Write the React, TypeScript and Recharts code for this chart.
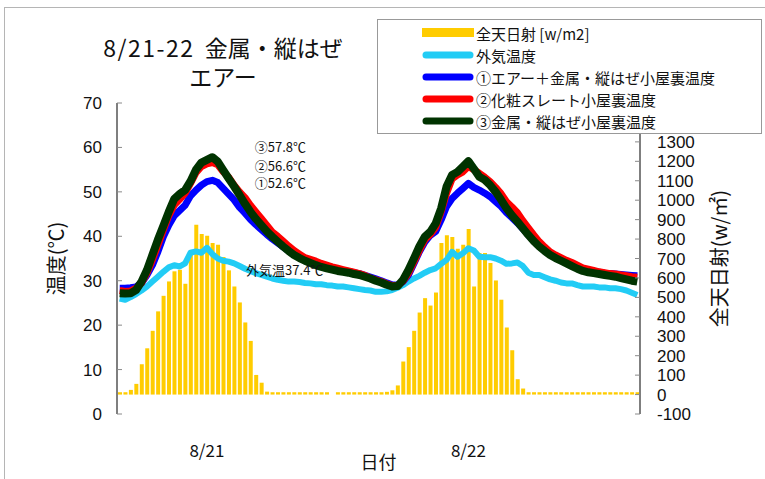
import React from 'react';
import {
  ComposedChart,
  Bar,
  Line,
  XAxis,
  YAxis,
  Legend,
  ReferenceDot,
} from 'recharts';

const JP = '"Noto Sans CJK JP", "Noto Sans", sans-serif';
const NUM = '"Liberation Sans", Arial, sans-serif';

// 30-minute readings, 96 slots over two days
const radiation = [
  12, 12, 24, 55, 156, 238, 328, 428, 508, 582, 634, 642,
  570, 740, 874, 826, 817, 780, 771, 708, 639, 556, 474, 371,
  276, 101, 61, 15, 12, 12, 12, 12, 12, 12, 12, 12,
  12, 12, 12, null, 12, 12, 12, 12, 12, 12, 12, 12,
  12, 14, 22, 47, 170, 244, 328, 422, 496, 458, 525, 780,
  819, 811, 750, 771, 852, 556, 728, 728, 677, 587, 488, 345,
  228, 79, 31, 12, 12, 12, 12, 12, 12, 12, 12, 12,
  12, 12, 12, 12, 12, 12, 12, 12, 12, 12, 12, 12,
];

const outdoorTemp = [
  26.0, 25.7, 26.3, 27.0, 27.8, 28.7, 29.8, 30.9, 32.0, 33.0, 33.5, 33.2,
  33.9, 36.3, 36.6, 36.3, 37.4, 36.0, 35.0, 34.5, 34.3, 33.9, 33.3, 32.7,
  32.2, 31.7, 31.3, 30.9, 30.5, 30.2, 30.0, 29.8, 29.8, 29.7, 29.5, 29.4,
  29.2, 29.2, 29.0, 28.9, 28.7, 28.7, 28.5, 28.3, 28.1, 27.9, 27.8, 27.5,
  27.5, 27.6, 27.9, 28.4, 29.0, 29.8, 30.5, 31.1, 31.8, 32.4, 32.8, 33.8,
  34.7, 36.5, 35.4, 36.2, 37.3, 36.8, 35.4, 35.3, 35.3, 35.0, 34.5, 33.8,
  33.9, 34.1, 33.3, 31.8, 31.3, 31.3, 30.8, 30.3, 30.0, 29.6, 29.4, 29.4,
  29.0, 28.7, 28.7, 28.7, 28.5, 28.5, 28.3, 28.3, 28.1, 27.8, 27.3, 26.8,
];

// ① エアー＋金属・縦はぜ
const atticAirMetal = [
  28.3, 28.3, 28.4, 28.6, 29.5, 31.3, 33.5, 36.5, 39.9, 42.5, 44.6, 45.8,
  47.0, 49.1, 50.4, 51.5, 52.3, 52.6, 52.1, 50.8, 49.5, 48.2, 46.5, 45.2,
  43.8, 42.6, 41.5, 40.4, 39.4, 38.5, 37.6, 36.7, 35.9, 35.2, 34.6, 34.1,
  33.7, 33.3, 33.0, 32.7, 32.5, 32.3, 32.1, 31.8, 31.6, 31.2, 30.8, 30.4,
  30.0, 29.5, 29.1, 29.0, 29.8, 31.3, 33.9, 36.5, 38.7, 40.2, 41.1, 43.7,
  46.7, 48.5, 49.7, 50.8, 51.9, 51.0, 50.4, 49.7, 48.9, 47.8, 46.7, 45.3,
  44.2, 43.0, 41.7, 40.3, 39.0, 37.8, 36.8, 35.9, 35.2, 34.6, 34.1, 33.6,
  33.1, 32.6, 32.3, 32.1, 31.9, 31.7, 31.6, 31.5, 31.4, 31.3, 31.2, 31.1,
];

// ② 化粧スレート
const atticSlate = [
  27.8, 27.6, 27.7, 28.3, 29.5, 31.7, 34.7, 38.0, 41.4, 44.6, 47.0, 48.3,
  49.7, 51.9, 54.3, 55.7, 56.3, 56.6, 56.1, 54.5, 53.3, 51.5, 50.0, 48.7,
  47.0, 45.5, 44.0, 42.5, 41.0, 40.0, 38.9, 37.8, 36.8, 36.0, 35.2, 34.8,
  34.4, 33.9, 33.5, 33.1, 32.8, 32.5, 32.2, 31.9, 31.6, 31.2, 30.6, 30.2,
  29.8, 29.3, 28.9, 28.9, 29.9, 31.7, 34.2, 36.8, 39.2, 40.4, 42.0, 45.5,
  49.7, 52.9, 53.8, 54.5, 55.7, 55.0, 54.2, 53.3, 52.3, 51.0, 49.6, 47.8,
  46.6, 45.3, 43.5, 41.9, 40.3, 38.8, 37.6, 36.5, 35.8, 35.2, 34.6, 34.1,
  33.5, 32.9, 32.6, 32.3, 32.0, 31.8, 31.6, 31.5, 31.3, 31.1, 30.9, 30.8,
];

// ③ 金属・縦はぜ
const atticMetal = [
  27.2, 27.1, 27.2, 27.9, 29.8, 32.4, 35.8, 39.2, 42.3, 45.5, 48.4, 49.5,
  50.4, 52.4, 55.0, 56.6, 57.2, 57.8, 56.8, 54.9, 53.0, 51.2, 49.3, 47.3,
  45.5, 43.9, 42.5, 41.1, 39.9, 38.8, 37.7, 36.7, 35.8, 35.1, 34.5, 34.0,
  33.5, 33.1, 32.8, 32.5, 32.2, 32.0, 31.8, 31.5, 31.3, 30.9, 30.5, 30.0,
  29.6, 29.1, 28.7, 28.8, 30.2, 32.4, 35.0, 37.7, 39.9, 41.0, 42.9, 46.3,
  51.2, 53.8, 54.5, 55.7, 56.9, 55.2, 53.4, 52.7, 51.5, 50.0, 48.2, 46.3,
  44.7, 43.3, 41.8, 40.3, 38.9, 37.7, 36.7, 35.8, 35.1, 34.5, 33.9, 33.3,
  32.7, 32.2, 31.9, 31.7, 31.5, 31.3, 31.1, 30.9, 30.6, 30.3, 30.0, 29.8,
];

const hourTicks = [6, 12, 18, 24, 30, 36, 42, 48, 54, 60, 66, 72, 78, 84, 90];
const dateTicks = [16.5, 64.5];
const dateLabels = ['8/21', '8/22'];
const tempTicks = [0, 10, 20, 30, 40, 50, 60, 70];
const radTicks = [-100, 0, 100, 200, 300, 400, 500, 600, 700, 800, 900, 1000, 1100, 1200, 1300];

const notes = [
  { text: '③57.8℃', slot: 25.3, temp: 59.9 },
  { text: '②56.6℃', slot: 25.3, temp: 55.8 },
  { text: '①52.6℃', slot: 25.3, temp: 51.8 },
  { text: '外気温37.4℃', slot: 23.7, temp: 32.4 },
];

const legendItems = [
  { label: '全天日射 [w/m2]', color: '#FFCC00', bar: true },
  { label: '外気温度', color: '#22CCF5' },
  { label: '①エアー＋金属・縦はぜ小屋裏温度', color: '#0000FF' },
  { label: '②化粧スレート小屋裏温度', color: '#FF0000' },
  { label: '③金属・縦はぜ小屋裏温度', color: '#003300' },
];

const data = radiation.map((rad, i) => ({
  slot: i + 0.5,
  rad,
  outdoor: outdoorTemp[i],
  air: atticAirMetal[i],
  slate: atticSlate[i],
  metal: atticMetal[i],
}));

const frame = { stroke: '#7f7f7f', strokeWidth: 2 };
const tickMark = { stroke: '#8a8a8a' };
const tickText = { fill: '#111', fontSize: 17, fontFamily: NUM };

const LegendBox = () => (
  <div
    style={{
      width: 385,
      height: 115,
      boxSizing: 'border-box',
      border: '1px solid #999',
      background: '#fff',
      paddingTop: 2,
    }}
  >
    {legendItems.map((item) => (
      <div key={item.label} style={{ display: 'flex', alignItems: 'center', height: 22, marginLeft: 44 }}>
        <svg width={52} height={12}>
          {item.bar ? (
            <rect x={0} y={1} width={52} height={9} fill={item.color} />
          ) : (
            <line x1={4} y1={6} x2={48} y2={6} stroke={item.color} strokeWidth={7} strokeLinecap="round" />
          )}
        </svg>
        <span style={{ fontFamily: JP, fontSize: 15, color: '#111', marginLeft: 2, whiteSpace: 'nowrap' }}>
          {item.label}
        </span>
      </div>
    ))}
  </div>
);

const verticalTitle = (text: string, x: number) => ({ viewBox }: any) => {
  const cy = viewBox.y + viewBox.height / 2;
  return (
    <text
      x={x}
      y={cy}
      transform={`rotate(-90 ${x} ${cy})`}
      textAnchor="middle"
      dominantBaseline="central"
      fontSize={20}
      fontFamily={JP}
      fill="#111"
    >
      {text}
    </text>
  );
};

const dateTitle = ({ viewBox }: any) => (
  <text
    x={viewBox.x + viewBox.width / 2}
    y={469}
    textAnchor="middle"
    fontSize={18}
    fontFamily={JP}
    fill="#111"
  >
    日付
  </text>
);

export default function App() {
  return (
    <div style={{ position: 'absolute', left: 0, top: 0, width: 765, height: 479, background: '#fff' }}>
      <div
        style={{
          position: 'absolute',
          left: 4,
          top: 7,
          width: 761,
          height: 472,
          borderTop: '1px solid #b5b5b5',
          borderLeft: '1px solid #b5b5b5',
        }}
      />
      <div
        style={{
          position: 'absolute',
          left: 0,
          top: 33,
          width: 446,
          textAlign: 'center',
          fontFamily: JP,
          fontSize: 23,
          lineHeight: '29px',
          color: '#111',
          whiteSpace: 'pre',
        }}
      >
        <span style={{ letterSpacing: 1.5 }}>8/21-22</span>
        {'  金属・縦はぜ\nエアー'}
      </div>

      <ComposedChart
        width={765}
        height={479}
        data={data}
        margin={{ top: 103, right: 0, bottom: 0, left: 0 }}
        style={{ position: 'absolute', left: 0, top: 0 }}
      >
        <XAxis
          xAxisId="main"
          type="number"
          dataKey="slot"
          domain={[0, 96]}
          ticks={hourTicks}
          interval={0}
          tickFormatter={() => ''}
          tickSize={-5}
          tickLine={tickMark}
          axisLine={frame}
          height={0}
        />
        <XAxis
          xAxisId="date"
          type="number"
          dataKey="slot"
          domain={[0, 96]}
          ticks={dateTicks}
          interval={0}
          tickFormatter={(v: number) => dateLabels[dateTicks.indexOf(v)] ?? ''}
          tick={{ fill: '#111', fontSize: 17, fontFamily: JP }}
          tickLine={false}
          axisLine={false}
          tickSize={0}
          tickMargin={31}
          height={65}
          label={dateTitle}
        />
        <XAxis
          xAxisId="top"
          orientation="top"
          type="number"
          dataKey="slot"
          domain={[0, 96]}
          tick={false}
          tickLine={false}
          axisLine={frame}
          height={0}
        />
        <YAxis
          yAxisId="temp"
          orientation="left"
          domain={[0, 70]}
          ticks={tempTicks}
          interval={0}
          tickSize={-5}
          tickMargin={20}
          tickLine={tickMark}
          axisLine={frame}
          tick={tickText}
          width={117}
          label={verticalTitle('温度(℃)', 55)}
        />
        <YAxis
          yAxisId="rad"
          orientation="right"
          domain={[-100, 1500]}
          ticks={radTicks}
          interval={0}
          tickSize={-5}
          tickMargin={22}
          tickLine={tickMark}
          axisLine={frame}
          tick={tickText}
          width={125}
          label={verticalTitle('全天日射(w/㎡)', 718)}
        />

        <Bar xAxisId="main" yAxisId="rad" dataKey="rad" fill="#FFCC00" barSize={4} isAnimationActive={false} />
        <Line xAxisId="main" yAxisId="temp" type="linear" dataKey="outdoor" stroke="#22CCF5" strokeWidth={6} dot={false} strokeLinejoin="round" isAnimationActive={false} />
        <Line xAxisId="main" yAxisId="temp" type="linear" dataKey="air" stroke="#0000FF" strokeWidth={7} dot={false} strokeLinejoin="round" isAnimationActive={false} />
        <Line xAxisId="main" yAxisId="temp" type="linear" dataKey="slate" stroke="#FF0000" strokeWidth={7} dot={false} strokeLinejoin="round" isAnimationActive={false} />
        <Line xAxisId="main" yAxisId="temp" type="linear" dataKey="metal" stroke="#003300" strokeWidth={8} dot={false} strokeLinejoin="round" isAnimationActive={false} />

        {notes.map((n) => (
          <ReferenceDot
            key={n.text}
            xAxisId="main"
            yAxisId="temp"
            x={n.slot}
            y={n.temp}
            r={0}
            stroke="none"
            fill="none"
            label={{ value: n.text, position: 'right', offset: 0, fontSize: 13, fontFamily: JP, fill: '#111' }}
          />
        ))}

        <Legend
          layout="horizontal"
          verticalAlign="middle"
          align="center"
          content={() => <LegendBox />}
          wrapperStyle={{ left: 377, top: 19, width: 385, height: 115 }}
        />
      </ComposedChart>
    </div>
  );
}
